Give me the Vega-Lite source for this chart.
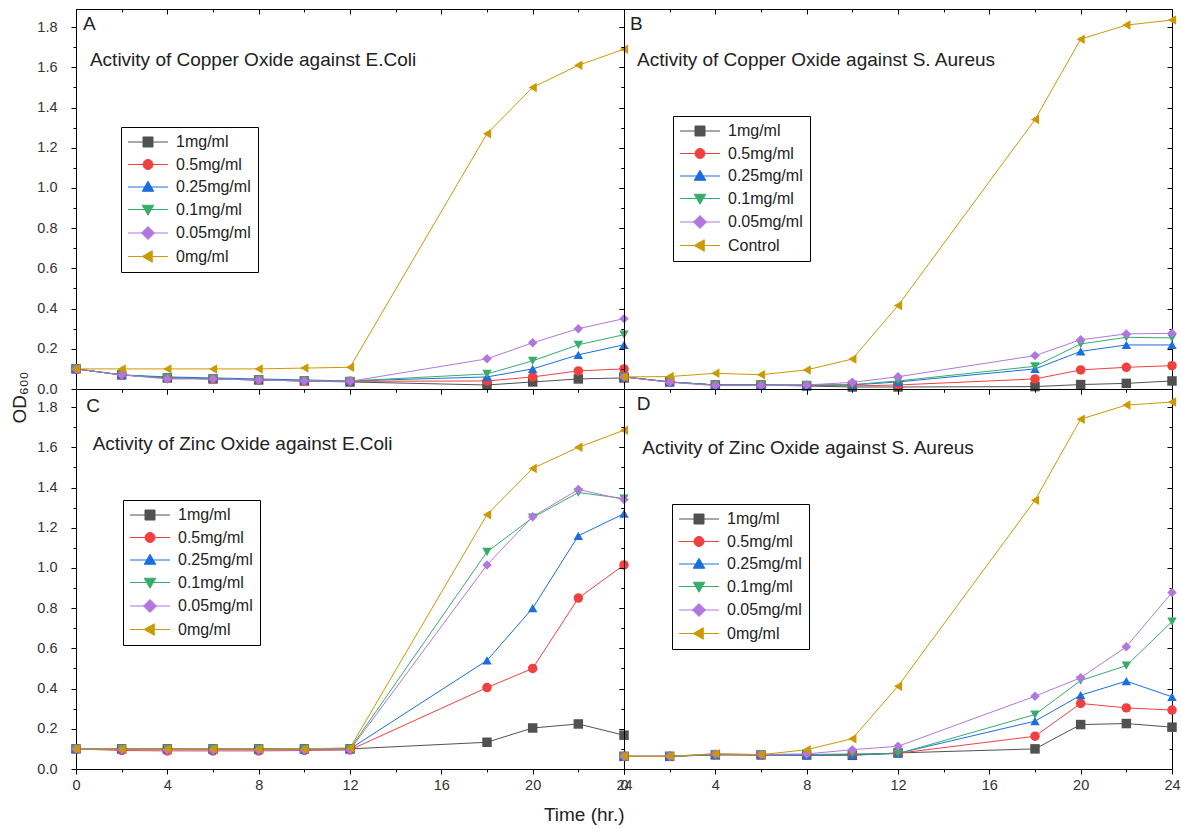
{
"$schema":"https://vega.github.io/schema/vega-lite/v6.json",
"padding":{"left":9,"top":8,"right":9,"bottom":5},
"bounds":"flush",
"spacing":0,
"columns":2,
"data":{"values":[
{"p":"A","c":"1mg/ml","t":0,"v":0.1},{"p":"A","c":"1mg/ml","t":2,"v":0.07},{"p":"A","c":"1mg/ml","t":4,"v":0.055},{"p":"A","c":"1mg/ml","t":6,"v":0.05},{"p":"A","c":"1mg/ml","t":8,"v":0.045},{"p":"A","c":"1mg/ml","t":10,"v":0.04},{"p":"A","c":"1mg/ml","t":12,"v":0.035},{"p":"A","c":"1mg/ml","t":18,"v":0.02},{"p":"A","c":"1mg/ml","t":20,"v":0.035},{"p":"A","c":"1mg/ml","t":22,"v":0.05},{"p":"A","c":"1mg/ml","t":24,"v":0.055},
{"p":"A","c":"0.5mg/ml","t":0,"v":0.1},{"p":"A","c":"0.5mg/ml","t":2,"v":0.07},{"p":"A","c":"0.5mg/ml","t":4,"v":0.055},{"p":"A","c":"0.5mg/ml","t":6,"v":0.05},{"p":"A","c":"0.5mg/ml","t":8,"v":0.045},{"p":"A","c":"0.5mg/ml","t":10,"v":0.04},{"p":"A","c":"0.5mg/ml","t":12,"v":0.038},{"p":"A","c":"0.5mg/ml","t":18,"v":0.04},{"p":"A","c":"0.5mg/ml","t":20,"v":0.06},{"p":"A","c":"0.5mg/ml","t":22,"v":0.09},{"p":"A","c":"0.5mg/ml","t":24,"v":0.1},
{"p":"A","c":"0.25mg/ml","t":0,"v":0.1},{"p":"A","c":"0.25mg/ml","t":2,"v":0.07},{"p":"A","c":"0.25mg/ml","t":4,"v":0.06},{"p":"A","c":"0.25mg/ml","t":6,"v":0.055},{"p":"A","c":"0.25mg/ml","t":8,"v":0.05},{"p":"A","c":"0.25mg/ml","t":10,"v":0.045},{"p":"A","c":"0.25mg/ml","t":12,"v":0.04},{"p":"A","c":"0.25mg/ml","t":18,"v":0.06},{"p":"A","c":"0.25mg/ml","t":20,"v":0.1},{"p":"A","c":"0.25mg/ml","t":22,"v":0.17},{"p":"A","c":"0.25mg/ml","t":24,"v":0.22},
{"p":"A","c":"0.1mg/ml","t":0,"v":0.1},{"p":"A","c":"0.1mg/ml","t":2,"v":0.07},{"p":"A","c":"0.1mg/ml","t":4,"v":0.055},{"p":"A","c":"0.1mg/ml","t":6,"v":0.05},{"p":"A","c":"0.1mg/ml","t":8,"v":0.045},{"p":"A","c":"0.1mg/ml","t":10,"v":0.04},{"p":"A","c":"0.1mg/ml","t":12,"v":0.04},{"p":"A","c":"0.1mg/ml","t":18,"v":0.075},{"p":"A","c":"0.1mg/ml","t":20,"v":0.14},{"p":"A","c":"0.1mg/ml","t":22,"v":0.22},{"p":"A","c":"0.1mg/ml","t":24,"v":0.27},
{"p":"A","c":"0.05mg/ml","t":0,"v":0.1},{"p":"A","c":"0.05mg/ml","t":2,"v":0.07},{"p":"A","c":"0.05mg/ml","t":4,"v":0.05},{"p":"A","c":"0.05mg/ml","t":6,"v":0.05},{"p":"A","c":"0.05mg/ml","t":8,"v":0.045},{"p":"A","c":"0.05mg/ml","t":10,"v":0.04},{"p":"A","c":"0.05mg/ml","t":12,"v":0.038},{"p":"A","c":"0.05mg/ml","t":18,"v":0.15},{"p":"A","c":"0.05mg/ml","t":20,"v":0.23},{"p":"A","c":"0.05mg/ml","t":22,"v":0.3},{"p":"A","c":"0.05mg/ml","t":24,"v":0.35},
{"p":"A","c":"0mg/ml","t":0,"v":0.1},{"p":"A","c":"0mg/ml","t":2,"v":0.1},{"p":"A","c":"0mg/ml","t":4,"v":0.1},{"p":"A","c":"0mg/ml","t":6,"v":0.1},{"p":"A","c":"0mg/ml","t":8,"v":0.1},{"p":"A","c":"0mg/ml","t":10,"v":0.104},{"p":"A","c":"0mg/ml","t":12,"v":0.108},{"p":"A","c":"0mg/ml","t":18,"v":1.27},{"p":"A","c":"0mg/ml","t":20,"v":1.5},{"p":"A","c":"0mg/ml","t":22,"v":1.61},{"p":"A","c":"0mg/ml","t":24,"v":1.69},
{"p":"B","c":"1mg/ml","t":0,"v":0.06},{"p":"B","c":"1mg/ml","t":2,"v":0.035},{"p":"B","c":"1mg/ml","t":4,"v":0.02},{"p":"B","c":"1mg/ml","t":6,"v":0.02},{"p":"B","c":"1mg/ml","t":8,"v":0.015},{"p":"B","c":"1mg/ml","t":10,"v":0.01},{"p":"B","c":"1mg/ml","t":12,"v":0.01},{"p":"B","c":"1mg/ml","t":18,"v":0.012},{"p":"B","c":"1mg/ml","t":20,"v":0.022},{"p":"B","c":"1mg/ml","t":22,"v":0.028},{"p":"B","c":"1mg/ml","t":24,"v":0.04},
{"p":"B","c":"0.5mg/ml","t":0,"v":0.06},{"p":"B","c":"0.5mg/ml","t":2,"v":0.035},{"p":"B","c":"0.5mg/ml","t":4,"v":0.02},{"p":"B","c":"0.5mg/ml","t":6,"v":0.02},{"p":"B","c":"0.5mg/ml","t":8,"v":0.018},{"p":"B","c":"0.5mg/ml","t":10,"v":0.015},{"p":"B","c":"0.5mg/ml","t":12,"v":0.02},{"p":"B","c":"0.5mg/ml","t":18,"v":0.05},{"p":"B","c":"0.5mg/ml","t":20,"v":0.095},{"p":"B","c":"0.5mg/ml","t":22,"v":0.108},{"p":"B","c":"0.5mg/ml","t":24,"v":0.116},
{"p":"B","c":"0.25mg/ml","t":0,"v":0.06},{"p":"B","c":"0.25mg/ml","t":2,"v":0.035},{"p":"B","c":"0.25mg/ml","t":4,"v":0.02},{"p":"B","c":"0.25mg/ml","t":6,"v":0.02},{"p":"B","c":"0.25mg/ml","t":8,"v":0.02},{"p":"B","c":"0.25mg/ml","t":10,"v":0.02},{"p":"B","c":"0.25mg/ml","t":12,"v":0.035},{"p":"B","c":"0.25mg/ml","t":18,"v":0.1},{"p":"B","c":"0.25mg/ml","t":20,"v":0.187},{"p":"B","c":"0.25mg/ml","t":22,"v":0.219},{"p":"B","c":"0.25mg/ml","t":24,"v":0.219},
{"p":"B","c":"0.1mg/ml","t":0,"v":0.06},{"p":"B","c":"0.1mg/ml","t":2,"v":0.035},{"p":"B","c":"0.1mg/ml","t":4,"v":0.02},{"p":"B","c":"0.1mg/ml","t":6,"v":0.02},{"p":"B","c":"0.1mg/ml","t":8,"v":0.02},{"p":"B","c":"0.1mg/ml","t":10,"v":0.022},{"p":"B","c":"0.1mg/ml","t":12,"v":0.04},{"p":"B","c":"0.1mg/ml","t":18,"v":0.113},{"p":"B","c":"0.1mg/ml","t":20,"v":0.224},{"p":"B","c":"0.1mg/ml","t":22,"v":0.257},{"p":"B","c":"0.1mg/ml","t":24,"v":0.254},
{"p":"B","c":"0.05mg/ml","t":0,"v":0.06},{"p":"B","c":"0.05mg/ml","t":2,"v":0.033},{"p":"B","c":"0.05mg/ml","t":4,"v":0.017},{"p":"B","c":"0.05mg/ml","t":6,"v":0.017},{"p":"B","c":"0.05mg/ml","t":8,"v":0.02},{"p":"B","c":"0.05mg/ml","t":10,"v":0.033},{"p":"B","c":"0.05mg/ml","t":12,"v":0.061},{"p":"B","c":"0.05mg/ml","t":18,"v":0.166},{"p":"B","c":"0.05mg/ml","t":20,"v":0.245},{"p":"B","c":"0.05mg/ml","t":22,"v":0.274},{"p":"B","c":"0.05mg/ml","t":24,"v":0.277},
{"p":"B","c":"Control","t":0,"v":0.06},{"p":"B","c":"Control","t":2,"v":0.062},{"p":"B","c":"Control","t":4,"v":0.078},{"p":"B","c":"Control","t":6,"v":0.071},{"p":"B","c":"Control","t":8,"v":0.095},{"p":"B","c":"Control","t":10,"v":0.149},{"p":"B","c":"Control","t":12,"v":0.415},{"p":"B","c":"Control","t":18,"v":1.34},{"p":"B","c":"Control","t":20,"v":1.74},{"p":"B","c":"Control","t":22,"v":1.81},{"p":"B","c":"Control","t":24,"v":1.835},
{"p":"C","c":"1mg/ml","t":0,"v":0.1},{"p":"C","c":"1mg/ml","t":2,"v":0.1},{"p":"C","c":"1mg/ml","t":4,"v":0.1},{"p":"C","c":"1mg/ml","t":6,"v":0.1},{"p":"C","c":"1mg/ml","t":8,"v":0.1},{"p":"C","c":"1mg/ml","t":10,"v":0.1},{"p":"C","c":"1mg/ml","t":12,"v":0.1},{"p":"C","c":"1mg/ml","t":18,"v":0.133},{"p":"C","c":"1mg/ml","t":20,"v":0.204},{"p":"C","c":"1mg/ml","t":22,"v":0.224},{"p":"C","c":"1mg/ml","t":24,"v":0.168},
{"p":"C","c":"0.5mg/ml","t":0,"v":0.1},{"p":"C","c":"0.5mg/ml","t":2,"v":0.092},{"p":"C","c":"0.5mg/ml","t":4,"v":0.09},{"p":"C","c":"0.5mg/ml","t":6,"v":0.09},{"p":"C","c":"0.5mg/ml","t":8,"v":0.09},{"p":"C","c":"0.5mg/ml","t":10,"v":0.092},{"p":"C","c":"0.5mg/ml","t":12,"v":0.095},{"p":"C","c":"0.5mg/ml","t":18,"v":0.405},{"p":"C","c":"0.5mg/ml","t":20,"v":0.5},{"p":"C","c":"0.5mg/ml","t":22,"v":0.85},{"p":"C","c":"0.5mg/ml","t":24,"v":1.015},
{"p":"C","c":"0.25mg/ml","t":0,"v":0.1},{"p":"C","c":"0.25mg/ml","t":2,"v":0.1},{"p":"C","c":"0.25mg/ml","t":4,"v":0.1},{"p":"C","c":"0.25mg/ml","t":6,"v":0.098},{"p":"C","c":"0.25mg/ml","t":8,"v":0.098},{"p":"C","c":"0.25mg/ml","t":10,"v":0.098},{"p":"C","c":"0.25mg/ml","t":12,"v":0.1},{"p":"C","c":"0.25mg/ml","t":18,"v":0.54},{"p":"C","c":"0.25mg/ml","t":20,"v":0.8},{"p":"C","c":"0.25mg/ml","t":22,"v":1.16},{"p":"C","c":"0.25mg/ml","t":24,"v":1.27},
{"p":"C","c":"0.1mg/ml","t":0,"v":0.1},{"p":"C","c":"0.1mg/ml","t":2,"v":0.1},{"p":"C","c":"0.1mg/ml","t":4,"v":0.1},{"p":"C","c":"0.1mg/ml","t":6,"v":0.1},{"p":"C","c":"0.1mg/ml","t":8,"v":0.1},{"p":"C","c":"0.1mg/ml","t":10,"v":0.1},{"p":"C","c":"0.1mg/ml","t":12,"v":0.1},{"p":"C","c":"0.1mg/ml","t":18,"v":1.08},{"p":"C","c":"0.1mg/ml","t":20,"v":1.25},{"p":"C","c":"0.1mg/ml","t":22,"v":1.375},{"p":"C","c":"0.1mg/ml","t":24,"v":1.345},
{"p":"C","c":"0.05mg/ml","t":0,"v":0.1},{"p":"C","c":"0.05mg/ml","t":2,"v":0.097},{"p":"C","c":"0.05mg/ml","t":4,"v":0.095},{"p":"C","c":"0.05mg/ml","t":6,"v":0.095},{"p":"C","c":"0.05mg/ml","t":8,"v":0.095},{"p":"C","c":"0.05mg/ml","t":10,"v":0.095},{"p":"C","c":"0.05mg/ml","t":12,"v":0.095},{"p":"C","c":"0.05mg/ml","t":18,"v":1.015},{"p":"C","c":"0.05mg/ml","t":20,"v":1.255},{"p":"C","c":"0.05mg/ml","t":22,"v":1.39},{"p":"C","c":"0.05mg/ml","t":24,"v":1.34},
{"p":"C","c":"0mg/ml","t":0,"v":0.1},{"p":"C","c":"0mg/ml","t":2,"v":0.1},{"p":"C","c":"0mg/ml","t":4,"v":0.1},{"p":"C","c":"0mg/ml","t":6,"v":0.1},{"p":"C","c":"0mg/ml","t":8,"v":0.1},{"p":"C","c":"0mg/ml","t":10,"v":0.1},{"p":"C","c":"0mg/ml","t":12,"v":0.105},{"p":"C","c":"0mg/ml","t":18,"v":1.265},{"p":"C","c":"0mg/ml","t":20,"v":1.495},{"p":"C","c":"0mg/ml","t":22,"v":1.6},{"p":"C","c":"0mg/ml","t":24,"v":1.685},
{"p":"D","c":"1mg/ml","t":0,"v":0.063},{"p":"D","c":"1mg/ml","t":2,"v":0.063},{"p":"D","c":"1mg/ml","t":4,"v":0.07},{"p":"D","c":"1mg/ml","t":6,"v":0.07},{"p":"D","c":"1mg/ml","t":8,"v":0.07},{"p":"D","c":"1mg/ml","t":10,"v":0.068},{"p":"D","c":"1mg/ml","t":12,"v":0.08},{"p":"D","c":"1mg/ml","t":18,"v":0.1},{"p":"D","c":"1mg/ml","t":20,"v":0.221},{"p":"D","c":"1mg/ml","t":22,"v":0.226},{"p":"D","c":"1mg/ml","t":24,"v":0.208},
{"p":"D","c":"0.5mg/ml","t":0,"v":0.063},{"p":"D","c":"0.5mg/ml","t":2,"v":0.063},{"p":"D","c":"0.5mg/ml","t":4,"v":0.072},{"p":"D","c":"0.5mg/ml","t":6,"v":0.07},{"p":"D","c":"0.5mg/ml","t":8,"v":0.07},{"p":"D","c":"0.5mg/ml","t":10,"v":0.072},{"p":"D","c":"0.5mg/ml","t":12,"v":0.078},{"p":"D","c":"0.5mg/ml","t":18,"v":0.163},{"p":"D","c":"0.5mg/ml","t":20,"v":0.326},{"p":"D","c":"0.5mg/ml","t":22,"v":0.304},{"p":"D","c":"0.5mg/ml","t":24,"v":0.293},
{"p":"D","c":"0.25mg/ml","t":0,"v":0.063},{"p":"D","c":"0.25mg/ml","t":2,"v":0.063},{"p":"D","c":"0.25mg/ml","t":4,"v":0.072},{"p":"D","c":"0.25mg/ml","t":6,"v":0.07},{"p":"D","c":"0.25mg/ml","t":8,"v":0.068},{"p":"D","c":"0.25mg/ml","t":10,"v":0.07},{"p":"D","c":"0.25mg/ml","t":12,"v":0.078},{"p":"D","c":"0.25mg/ml","t":18,"v":0.238},{"p":"D","c":"0.25mg/ml","t":20,"v":0.367},{"p":"D","c":"0.25mg/ml","t":22,"v":0.437},{"p":"D","c":"0.25mg/ml","t":24,"v":0.359},
{"p":"D","c":"0.1mg/ml","t":0,"v":0.063},{"p":"D","c":"0.1mg/ml","t":2,"v":0.063},{"p":"D","c":"0.1mg/ml","t":4,"v":0.072},{"p":"D","c":"0.1mg/ml","t":6,"v":0.072},{"p":"D","c":"0.1mg/ml","t":8,"v":0.072},{"p":"D","c":"0.1mg/ml","t":10,"v":0.075},{"p":"D","c":"0.1mg/ml","t":12,"v":0.076},{"p":"D","c":"0.1mg/ml","t":18,"v":0.271},{"p":"D","c":"0.1mg/ml","t":20,"v":0.44},{"p":"D","c":"0.1mg/ml","t":22,"v":0.514},{"p":"D","c":"0.1mg/ml","t":24,"v":0.733},
{"p":"D","c":"0.05mg/ml","t":0,"v":0.063},{"p":"D","c":"0.05mg/ml","t":2,"v":0.063},{"p":"D","c":"0.05mg/ml","t":4,"v":0.075},{"p":"D","c":"0.05mg/ml","t":6,"v":0.072},{"p":"D","c":"0.05mg/ml","t":8,"v":0.075},{"p":"D","c":"0.05mg/ml","t":10,"v":0.096},{"p":"D","c":"0.05mg/ml","t":12,"v":0.113},{"p":"D","c":"0.05mg/ml","t":18,"v":0.362},{"p":"D","c":"0.05mg/ml","t":20,"v":0.454},{"p":"D","c":"0.05mg/ml","t":22,"v":0.608},{"p":"D","c":"0.05mg/ml","t":24,"v":0.878},
{"p":"D","c":"0mg/ml","t":0,"v":0.063},{"p":"D","c":"0mg/ml","t":2,"v":0.063},{"p":"D","c":"0mg/ml","t":4,"v":0.076},{"p":"D","c":"0mg/ml","t":6,"v":0.071},{"p":"D","c":"0mg/ml","t":8,"v":0.096},{"p":"D","c":"0mg/ml","t":10,"v":0.151},{"p":"D","c":"0mg/ml","t":12,"v":0.412},{"p":"D","c":"0mg/ml","t":18,"v":1.337},{"p":"D","c":"0mg/ml","t":20,"v":1.74},{"p":"D","c":"0mg/ml","t":22,"v":1.81},{"p":"D","c":"0mg/ml","t":24,"v":1.825}
]},
"concat":[
{"width":548,"height":380,
 "layer":[
  {"transform":[{"filter":"datum.p == 'A'"}],
   "mark":{"type":"line","strokeWidth":1},
   "encoding":{
    "x":{"field":"t","type":"quantitative","scale":{"domain":[0,24],"nice":false,"zero":false},"axis":{"orient":"bottom","values":[0,2,4,6,8,10,12,14,16,18,20,22,24],"labels":false,"tickSize":{"condition":{"test":"datum.value % 4 == 2","value":3},"value":5},"title":null}},
    "y":{"field":"v","type":"quantitative","scale":{"domain":[0,1.89],"nice":false,"zero":false},"axis":{"orient":"left","values":[0,0.1,0.2,0.3,0.4,0.5,0.6,0.7,0.8,0.9,1.0,1.1,1.2,1.3,1.4,1.5,1.6,1.7,1.8],"labelExpr":"round(datum.value*10) % 2 == 1 ? '' : format(datum.value, '.1f')","tickSize":{"condition":{"test":"round(datum.value*10) % 2 == 1","value":3},"value":5},"labelPadding":14,"title":null}},
    "stroke":{"field":"c","type":"nominal","scale":{"domain":["1mg/ml","0.5mg/ml","0.25mg/ml","0.1mg/ml","0.05mg/ml","0mg/ml"],"range":["#515151","#F14040","#1A6FDF","#37AD6B","#B177DE","#CC9900"]},"legend":null}
   }},
  {"transform":[{"filter":"datum.p == 'A'"}],
   "mark":{"type":"point","filled":true,"size":90,"opacity":1},
   "encoding":{
    "x":{"field":"t","type":"quantitative","axis":{"orient":"top","values":[0,2,4,6,8,10,12,14,16,18,20,22,24],"labels":false,"tickSize":{"condition":{"test":"datum.value % 4 == 2","value":-3},"value":-5},"title":null}},
    "y":{"field":"v","type":"quantitative","axis":{"orient":"right","values":[0,0.1,0.2,0.3,0.4,0.5,0.6,0.7,0.8,0.9,1.0,1.1,1.2,1.3,1.4,1.5,1.6,1.7,1.8],"labels":false,"tickSize":{"condition":{"test":"round(datum.value*10) % 2 == 1","value":-3},"value":-5},"title":null}},
    "fill":{"field":"c","type":"nominal","scale":{"domain":["1mg/ml","0.5mg/ml","0.25mg/ml","0.1mg/ml","0.05mg/ml","0mg/ml"],"range":["#515151","#F14040","#1A6FDF","#37AD6B","#B177DE","#CC9900"]},"legend":null},
    "shape":{"field":"c","type":"nominal","scale":{"domain":["1mg/ml","0.5mg/ml","0.25mg/ml","0.1mg/ml","0.05mg/ml","0mg/ml"],"range":["square","circle","triangle-up","triangle-down","diamond","triangle-left"]},"legend":null}
   }},
  {"transform":[{"filter":"false"}],
   "mark":{"type":"point","filled":true,"opacity":1},
   "encoding":{
    "x":{"field":"t","type":"quantitative","axis":null},
    "y":{"field":"v","type":"quantitative","axis":null},
    "fill":{"field":"c","type":"nominal","scale":{"domain":["1mg/ml","0.5mg/ml","0.25mg/ml","0.1mg/ml","0.05mg/ml","0mg/ml"],"range":["#515151","#F14040","#1A6FDF","#37AD6B","#B177DE","#CC9900"]},"legend":{"title":null,"orient":"none","legendX":45,"legendY":118}},
    "stroke":{"field":"c","type":"nominal","scale":{"domain":["1mg/ml","0.5mg/ml","0.25mg/ml","0.1mg/ml","0.05mg/ml","0mg/ml"],"range":["#515151","#F14040","#1A6FDF","#37AD6B","#B177DE","#CC9900"]},"legend":{"title":null,"orient":"none","legendX":45,"legendY":118}},
    "shape":{"field":"c","type":"nominal","scale":{"domain":["1mg/ml","0.5mg/ml","0.25mg/ml","0.1mg/ml","0.05mg/ml","0mg/ml"],"range":["M-4,0H4M-1,-1H1V1H-1Z","M-4,0H4M-1,0A1,1,0,1,1,1,0A1,1,0,1,1,-1,0Z","M-4,0H4M0,-1.15L1.15,0.85H-1.15Z","M-4,0H4M0,1.15L1.15,-0.85H-1.15Z","M-4,0H4M0,-1.3L1.3,0L0,1.3L-1.3,0Z","M-4,0H4M-1.15,0L0.85,-1.15V1.15Z"]},"legend":{"title":null,"orient":"none","legendX":45,"legendY":118}}
   }},
  {"data":{"values":[{}]},"mark":{"type":"text","text":"A","align":"left","baseline":"alphabetic","fontSize":19,"font":"Liberation Sans","color":"#222"},
   "encoding":{"x":{"datum":0.31,"type":"quantitative","axis":null},"y":{"datum":1.787,"type":"quantitative","axis":null}}},
  {"data":{"values":[{}]},"mark":{"type":"text","text":"Activity of Copper Oxide against E.Coli","align":"left","baseline":"alphabetic","fontSize":19,"font":"Liberation Sans","color":"#222"},
   "encoding":{"x":{"datum":0.61,"type":"quantitative","axis":null},"y":{"datum":1.608,"type":"quantitative","axis":null}}}
 ],
 "resolve":{"scale":{"stroke":"independent","fill":"independent","shape":"independent"},"axis":{"x":"independent","y":"independent"}}
},
{"width":548,"height":380,
 "layer":[
  {"transform":[{"filter":"datum.p == 'B'"}],
   "mark":{"type":"line","strokeWidth":1},
   "encoding":{
    "x":{"field":"t","type":"quantitative","scale":{"domain":[0,24],"nice":false,"zero":false},"axis":{"orient":"bottom","values":[0,2,4,6,8,10,12,14,16,18,20,22,24],"labels":false,"tickSize":{"condition":{"test":"datum.value % 4 == 2","value":3},"value":5},"title":null}},
    "y":{"field":"v","type":"quantitative","scale":{"domain":[0,1.89],"nice":false,"zero":false},"axis":{"orient":"left","values":[0,0.1,0.2,0.3,0.4,0.5,0.6,0.7,0.8,0.9,1.0,1.1,1.2,1.3,1.4,1.5,1.6,1.7,1.8],"labels":false,"tickSize":{"condition":{"test":"round(datum.value*10) % 2 == 1","value":3},"value":5},"title":null}},
    "stroke":{"field":"c","type":"nominal","scale":{"domain":["1mg/ml","0.5mg/ml","0.25mg/ml","0.1mg/ml","0.05mg/ml","Control"],"range":["#515151","#F14040","#1A6FDF","#37AD6B","#B177DE","#CC9900"]},"legend":null}
   }},
  {"transform":[{"filter":"datum.p == 'B'"}],
   "mark":{"type":"point","filled":true,"size":90,"opacity":1},
   "encoding":{
    "x":{"field":"t","type":"quantitative","axis":{"orient":"top","values":[0,2,4,6,8,10,12,14,16,18,20,22,24],"labels":false,"tickSize":{"condition":{"test":"datum.value % 4 == 2","value":-3},"value":-5},"title":null}},
    "y":{"field":"v","type":"quantitative","axis":{"orient":"right","values":[0,0.1,0.2,0.3,0.4,0.5,0.6,0.7,0.8,0.9,1.0,1.1,1.2,1.3,1.4,1.5,1.6,1.7,1.8],"labels":false,"tickSize":{"condition":{"test":"round(datum.value*10) % 2 == 1","value":-3},"value":-5},"title":null}},
    "fill":{"field":"c","type":"nominal","scale":{"domain":["1mg/ml","0.5mg/ml","0.25mg/ml","0.1mg/ml","0.05mg/ml","Control"],"range":["#515151","#F14040","#1A6FDF","#37AD6B","#B177DE","#CC9900"]},"legend":null},
    "shape":{"field":"c","type":"nominal","scale":{"domain":["1mg/ml","0.5mg/ml","0.25mg/ml","0.1mg/ml","0.05mg/ml","Control"],"range":["square","circle","triangle-up","triangle-down","diamond","triangle-left"]},"legend":null}
   }},
  {"transform":[{"filter":"false"}],
   "mark":{"type":"point","filled":true,"opacity":1},
   "encoding":{
    "x":{"field":"t","type":"quantitative","axis":null},
    "y":{"field":"v","type":"quantitative","axis":null},
    "fill":{"field":"c","type":"nominal","scale":{"domain":["1mg/ml","0.5mg/ml","0.25mg/ml","0.1mg/ml","0.05mg/ml","Control"],"range":["#515151","#F14040","#1A6FDF","#37AD6B","#B177DE","#CC9900"]},"legend":{"title":null,"orient":"none","legendX":49,"legendY":107}},
    "stroke":{"field":"c","type":"nominal","scale":{"domain":["1mg/ml","0.5mg/ml","0.25mg/ml","0.1mg/ml","0.05mg/ml","Control"],"range":["#515151","#F14040","#1A6FDF","#37AD6B","#B177DE","#CC9900"]},"legend":{"title":null,"orient":"none","legendX":49,"legendY":107}},
    "shape":{"field":"c","type":"nominal","scale":{"domain":["1mg/ml","0.5mg/ml","0.25mg/ml","0.1mg/ml","0.05mg/ml","Control"],"range":["M-4,0H4M-1,-1H1V1H-1Z","M-4,0H4M-1,0A1,1,0,1,1,1,0A1,1,0,1,1,-1,0Z","M-4,0H4M0,-1.15L1.15,0.85H-1.15Z","M-4,0H4M0,1.15L1.15,-0.85H-1.15Z","M-4,0H4M0,-1.3L1.3,0L0,1.3L-1.3,0Z","M-4,0H4M-1.15,0L0.85,-1.15V1.15Z"]},"legend":{"title":null,"orient":"none","legendX":49,"legendY":107}}
   }},
  {"data":{"values":[{}]},"mark":{"type":"text","text":"B","align":"left","baseline":"alphabetic","fontSize":19,"font":"Liberation Sans","color":"#222"},
   "encoding":{"x":{"datum":0.26,"type":"quantitative","axis":null},"y":{"datum":1.787,"type":"quantitative","axis":null}}},
  {"data":{"values":[{}]},"mark":{"type":"text","text":"Activity of Copper Oxide against S. Aureus","align":"left","baseline":"alphabetic","fontSize":19,"font":"Liberation Sans","color":"#222"},
   "encoding":{"x":{"datum":0.57,"type":"quantitative","axis":null},"y":{"datum":1.608,"type":"quantitative","axis":null}}}
 ],
 "resolve":{"scale":{"stroke":"independent","fill":"independent","shape":"independent"},"axis":{"x":"independent","y":"independent"}}
},
{"width":548,"height":380,
 "layer":[
  {"transform":[{"filter":"datum.p == 'C'"}],
   "mark":{"type":"line","strokeWidth":1},
   "encoding":{
    "x":{"field":"t","type":"quantitative","scale":{"domain":[0,24],"nice":false,"zero":false},"axis":{"orient":"bottom","values":[0,2,4,6,8,10,12,14,16,18,20,22,24],"labelExpr":"datum.value % 4 == 2 ? '' : datum.label","tickSize":{"condition":{"test":"datum.value % 4 == 2","value":3},"value":5},"labelPadding":4,"title":"Time (hr.)","titleAnchor":"end","titlePadding":14}},
    "y":{"field":"v","type":"quantitative","scale":{"domain":[0,1.89],"nice":false,"zero":false},"axis":{"orient":"left","values":[0,0.1,0.2,0.3,0.4,0.5,0.6,0.7,0.8,0.9,1.0,1.1,1.2,1.3,1.4,1.5,1.6,1.7,1.8],"labelExpr":"round(datum.value*10) % 2 == 1 ? '' : format(datum.value, '.1f')","tickSize":{"condition":{"test":"round(datum.value*10) % 2 == 1","value":3},"value":5},"labelPadding":14,"title":"OD₆₀₀","titleX":-57,"titleY":8,"titleAlign":"center","titleBaseline":"middle","titleAngle":270}},
    "stroke":{"field":"c","type":"nominal","scale":{"domain":["1mg/ml","0.5mg/ml","0.25mg/ml","0.1mg/ml","0.05mg/ml","0mg/ml"],"range":["#515151","#F14040","#1A6FDF","#37AD6B","#B177DE","#CC9900"]},"legend":null}
   }},
  {"transform":[{"filter":"datum.p == 'C'"}],
   "mark":{"type":"point","filled":true,"size":90,"opacity":1},
   "encoding":{
    "x":{"field":"t","type":"quantitative","axis":{"orient":"top","values":[0,2,4,6,8,10,12,14,16,18,20,22,24],"labels":false,"tickSize":{"condition":{"test":"datum.value % 4 == 2","value":-3},"value":-5},"title":null}},
    "y":{"field":"v","type":"quantitative","axis":{"orient":"right","values":[0,0.1,0.2,0.3,0.4,0.5,0.6,0.7,0.8,0.9,1.0,1.1,1.2,1.3,1.4,1.5,1.6,1.7,1.8],"labels":false,"tickSize":{"condition":{"test":"round(datum.value*10) % 2 == 1","value":-3},"value":-5},"title":null}},
    "fill":{"field":"c","type":"nominal","scale":{"domain":["1mg/ml","0.5mg/ml","0.25mg/ml","0.1mg/ml","0.05mg/ml","0mg/ml"],"range":["#515151","#F14040","#1A6FDF","#37AD6B","#B177DE","#CC9900"]},"legend":null},
    "shape":{"field":"c","type":"nominal","scale":{"domain":["1mg/ml","0.5mg/ml","0.25mg/ml","0.1mg/ml","0.05mg/ml","0mg/ml"],"range":["square","circle","triangle-up","triangle-down","diamond","triangle-left"]},"legend":null}
   }},
  {"transform":[{"filter":"false"}],
   "mark":{"type":"point","filled":true,"opacity":1},
   "encoding":{
    "x":{"field":"t","type":"quantitative","axis":null},
    "y":{"field":"v","type":"quantitative","axis":null},
    "fill":{"field":"c","type":"nominal","scale":{"domain":["1mg/ml","0.5mg/ml","0.25mg/ml","0.1mg/ml","0.05mg/ml","0mg/ml"],"range":["#515151","#F14040","#1A6FDF","#37AD6B","#B177DE","#CC9900"]},"legend":{"title":null,"orient":"none","legendX":47,"legendY":111}},
    "stroke":{"field":"c","type":"nominal","scale":{"domain":["1mg/ml","0.5mg/ml","0.25mg/ml","0.1mg/ml","0.05mg/ml","0mg/ml"],"range":["#515151","#F14040","#1A6FDF","#37AD6B","#B177DE","#CC9900"]},"legend":{"title":null,"orient":"none","legendX":47,"legendY":111}},
    "shape":{"field":"c","type":"nominal","scale":{"domain":["1mg/ml","0.5mg/ml","0.25mg/ml","0.1mg/ml","0.05mg/ml","0mg/ml"],"range":["M-4,0H4M-1,-1H1V1H-1Z","M-4,0H4M-1,0A1,1,0,1,1,1,0A1,1,0,1,1,-1,0Z","M-4,0H4M0,-1.15L1.15,0.85H-1.15Z","M-4,0H4M0,1.15L1.15,-0.85H-1.15Z","M-4,0H4M0,-1.3L1.3,0L0,1.3L-1.3,0Z","M-4,0H4M-1.15,0L0.85,-1.15V1.15Z"]},"legend":{"title":null,"orient":"none","legendX":47,"legendY":111}}
   }},
  {"data":{"values":[{}]},"mark":{"type":"text","text":"C","align":"left","baseline":"alphabetic","fontSize":19,"font":"Liberation Sans","color":"#222"},
   "encoding":{"x":{"datum":0.45,"type":"quantitative","axis":null},"y":{"datum":1.777,"type":"quantitative","axis":null}}},
  {"data":{"values":[{}]},"mark":{"type":"text","text":"Activity of Zinc Oxide against E.Coli","align":"left","baseline":"alphabetic","fontSize":19,"font":"Liberation Sans","color":"#222"},
   "encoding":{"x":{"datum":0.73,"type":"quantitative","axis":null},"y":{"datum":1.589,"type":"quantitative","axis":null}}}
 ],
 "resolve":{"scale":{"stroke":"independent","fill":"independent","shape":"independent"},"axis":{"x":"independent","y":"independent"}}
},
{"width":548,"height":380,
 "layer":[
  {"transform":[{"filter":"datum.p == 'D'"}],
   "mark":{"type":"line","strokeWidth":1},
   "encoding":{
    "x":{"field":"t","type":"quantitative","scale":{"domain":[0,24],"nice":false,"zero":false},"axis":{"orient":"bottom","values":[0,2,4,6,8,10,12,14,16,18,20,22,24],"labelExpr":"datum.value % 4 == 2 ? '' : datum.label","tickSize":{"condition":{"test":"datum.value % 4 == 2","value":3},"value":5},"labelPadding":4,"title":null}},
    "y":{"field":"v","type":"quantitative","scale":{"domain":[0,1.89],"nice":false,"zero":false},"axis":{"orient":"left","values":[0,0.1,0.2,0.3,0.4,0.5,0.6,0.7,0.8,0.9,1.0,1.1,1.2,1.3,1.4,1.5,1.6,1.7,1.8],"labels":false,"tickSize":{"condition":{"test":"round(datum.value*10) % 2 == 1","value":3},"value":5},"title":null}},
    "stroke":{"field":"c","type":"nominal","scale":{"domain":["1mg/ml","0.5mg/ml","0.25mg/ml","0.1mg/ml","0.05mg/ml","0mg/ml"],"range":["#515151","#F14040","#1A6FDF","#37AD6B","#B177DE","#CC9900"]},"legend":null}
   }},
  {"transform":[{"filter":"datum.p == 'D'"}],
   "mark":{"type":"point","filled":true,"size":90,"opacity":1},
   "encoding":{
    "x":{"field":"t","type":"quantitative","axis":{"orient":"top","values":[0,2,4,6,8,10,12,14,16,18,20,22,24],"labels":false,"tickSize":{"condition":{"test":"datum.value % 4 == 2","value":-3},"value":-5},"title":null}},
    "y":{"field":"v","type":"quantitative","axis":{"orient":"right","values":[0,0.1,0.2,0.3,0.4,0.5,0.6,0.7,0.8,0.9,1.0,1.1,1.2,1.3,1.4,1.5,1.6,1.7,1.8],"labels":false,"tickSize":{"condition":{"test":"round(datum.value*10) % 2 == 1","value":-3},"value":-5},"title":null}},
    "fill":{"field":"c","type":"nominal","scale":{"domain":["1mg/ml","0.5mg/ml","0.25mg/ml","0.1mg/ml","0.05mg/ml","0mg/ml"],"range":["#515151","#F14040","#1A6FDF","#37AD6B","#B177DE","#CC9900"]},"legend":null},
    "shape":{"field":"c","type":"nominal","scale":{"domain":["1mg/ml","0.5mg/ml","0.25mg/ml","0.1mg/ml","0.05mg/ml","0mg/ml"],"range":["square","circle","triangle-up","triangle-down","diamond","triangle-left"]},"legend":null}
   }},
  {"transform":[{"filter":"false"}],
   "mark":{"type":"point","filled":true,"opacity":1},
   "encoding":{
    "x":{"field":"t","type":"quantitative","axis":null},
    "y":{"field":"v","type":"quantitative","axis":null},
    "fill":{"field":"c","type":"nominal","scale":{"domain":["1mg/ml","0.5mg/ml","0.25mg/ml","0.1mg/ml","0.05mg/ml","0mg/ml"],"range":["#515151","#F14040","#1A6FDF","#37AD6B","#B177DE","#CC9900"]},"legend":{"title":null,"orient":"none","legendX":48,"legendY":115}},
    "stroke":{"field":"c","type":"nominal","scale":{"domain":["1mg/ml","0.5mg/ml","0.25mg/ml","0.1mg/ml","0.05mg/ml","0mg/ml"],"range":["#515151","#F14040","#1A6FDF","#37AD6B","#B177DE","#CC9900"]},"legend":{"title":null,"orient":"none","legendX":48,"legendY":115}},
    "shape":{"field":"c","type":"nominal","scale":{"domain":["1mg/ml","0.5mg/ml","0.25mg/ml","0.1mg/ml","0.05mg/ml","0mg/ml"],"range":["M-4,0H4M-1,-1H1V1H-1Z","M-4,0H4M-1,0A1,1,0,1,1,1,0A1,1,0,1,1,-1,0Z","M-4,0H4M0,-1.15L1.15,0.85H-1.15Z","M-4,0H4M0,1.15L1.15,-0.85H-1.15Z","M-4,0H4M0,-1.3L1.3,0L0,1.3L-1.3,0Z","M-4,0H4M-1.15,0L0.85,-1.15V1.15Z"]},"legend":{"title":null,"orient":"none","legendX":48,"legendY":115}}
   }},
  {"data":{"values":[{}]},"mark":{"type":"text","text":"D","align":"left","baseline":"alphabetic","fontSize":19,"font":"Liberation Sans","color":"#222"},
   "encoding":{"x":{"datum":0.56,"type":"quantitative","axis":null},"y":{"datum":1.786,"type":"quantitative","axis":null}}},
  {"data":{"values":[{}]},"mark":{"type":"text","text":"Activity of Zinc Oxide against S. Aureus","align":"left","baseline":"alphabetic","fontSize":19,"font":"Liberation Sans","color":"#222"},
   "encoding":{"x":{"datum":0.8,"type":"quantitative","axis":null},"y":{"datum":1.567,"type":"quantitative","axis":null}}}
 ],
 "resolve":{"scale":{"stroke":"independent","fill":"independent","shape":"independent"},"axis":{"x":"independent","y":"independent"}}
}
],
"resolve":{"scale":{"stroke":"independent","fill":"independent","shape":"independent"},"legend":{"stroke":"independent","fill":"independent","shape":"independent"}},
"config":{
 "view":{"stroke":"#000","strokeWidth":1},
 "axis":{"grid":false,"domain":false,"tickColor":"#000","tickWidth":1,"labelFont":"Liberation Sans","labelFontSize":14.5,"labelColor":"#333","titleFont":"Liberation Sans","titleFontSize":19,"titleFontWeight":"normal","titleColor":"#222","labelFlush":false,"labelOverlap":false},
 "legend":{"strokeColor":"#000","fillColor":"#fff","padding":7,"labelFont":"Liberation Sans","labelFontSize":16,"labelColor":"#222","symbolSize":100,"symbolStrokeWidth":1,"symbolOpacity":1,"rowPadding":6.5,"symbolOffset":12,"labelOffset":20}
}
}
